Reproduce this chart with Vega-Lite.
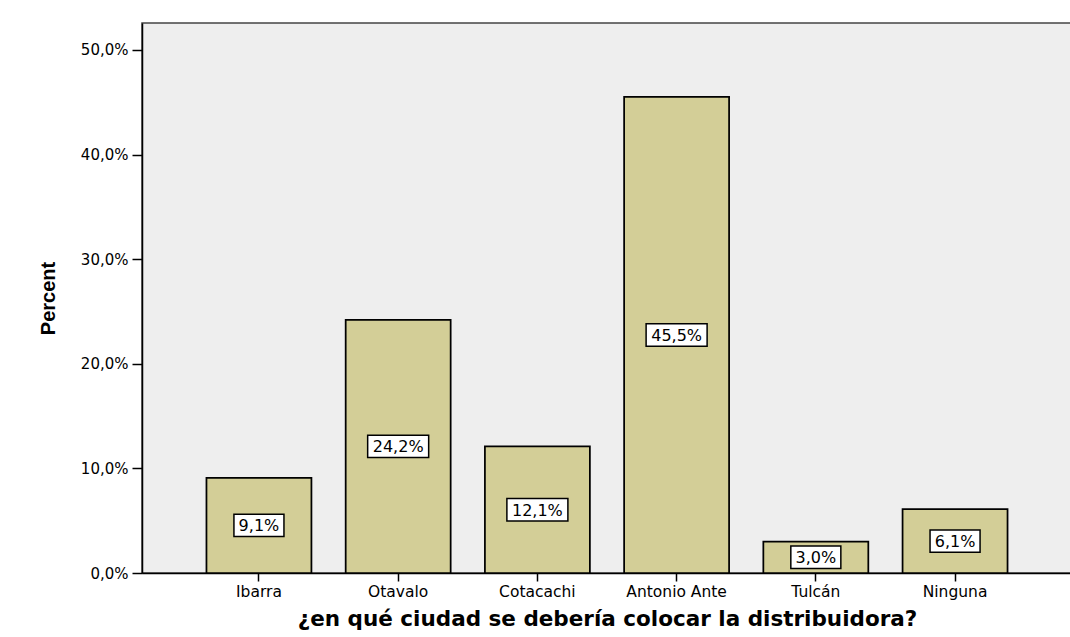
{
  "$schema": "https://vega.github.io/schema/vega-lite/v6.json",
  "width": 930,
  "height": 550,
  "autosize": "none",
  "padding": {"left": 142, "top": 23, "right": 0, "bottom": 64},
  "background": "white",
  "config": {
    "locale": {"number": {"decimal": ",", "thousands": ".", "grouping": [3], "currency": ["", " €"]}},
    "view": {"fill": "#eeeeee", "stroke": "#444444", "strokeWidth": 1.5},
    "axis": {
      "domainColor": "black",
      "domainWidth": 1.5,
      "tickColor": "black",
      "tickWidth": 1.5,
      "labelColor": "black",
      "titleColor": "black",
      "grid": false
    }
  },
  "data": {
    "values": [
      {"ciudad": "Ibarra", "pct": 0.091},
      {"ciudad": "Otavalo", "pct": 0.242},
      {"ciudad": "Cotacachi", "pct": 0.121},
      {"ciudad": "Antonio Ante", "pct": 0.455},
      {"ciudad": "Tulcán", "pct": 0.030},
      {"ciudad": "Ninguna", "pct": 0.061}
    ]
  },
  "encoding": {
    "x": {
      "field": "ciudad",
      "type": "nominal",
      "sort": null,
      "scale": {"paddingInner": 0.246, "paddingOuter": 0.463},
      "axis": {
        "title": "¿en qué ciudad se debería colocar la distribuidora?",
        "titleFont": "DejaVu Sans",
        "titleFontWeight": "bold",
        "titleFontSize": 21.5,
        "titlePadding": 9,
        "labelAngle": 0,
        "labelFont": "DejaVu Sans",
        "labelFontSize": 15.5,
        "labelPadding": 3,
        "tickSize": 8
      }
    }
  },
  "layer": [
    {
      "mark": {"type": "bar", "fill": "#d3ce97", "stroke": "black", "strokeWidth": 1.75},
      "encoding": {
        "y": {
          "field": "pct",
          "type": "quantitative",
          "scale": {"domain": [0, 0.5257], "nice": false},
          "axis": {
            "title": "Percent",
            "values": [0, 0.1, 0.2, 0.3, 0.4, 0.5],
            "format": ".1%",
            "labelFont": "DejaVu Sans",
            "labelFontSize": 15,
            "labelPadding": 4,
            "tickSize": 10,
            "titleFont": "Liberation Sans",
            "titleFontWeight": "bold",
            "titleFontSize": 20,
            "titleBaseline": "middle",
            "titleAngle": -90,
            "titleX": -94,
            "titleY": 275
          }
        }
      }
    },
    {
      "transform": [{"calculate": "datum.pct / 2", "as": "mid"}],
      "mark": {"type": "point", "filled": true, "fill": "white", "stroke": "black", "strokeWidth": 1.5, "opacity": 1, "size": 3721},
      "encoding": {
        "y": {"field": "mid", "type": "quantitative"},
        "shape": {
          "condition": {"test": "datum.pct >= 0.1", "value": "M-1,-0.367H1V0.367H-1Z"},
          "value": "M-0.82,-0.367H0.82V0.367H-0.82Z"
        }
      }
    },
    {
      "transform": [{"calculate": "datum.pct / 2", "as": "mid"}],
      "mark": {"type": "text", "font": "DejaVu Sans", "fontSize": 16, "color": "black", "baseline": "middle", "align": "center", "dy": 1},
      "encoding": {
        "y": {"field": "mid", "type": "quantitative"},
        "text": {"field": "pct", "type": "quantitative", "format": ".1%"}
      }
    }
  ]
}
